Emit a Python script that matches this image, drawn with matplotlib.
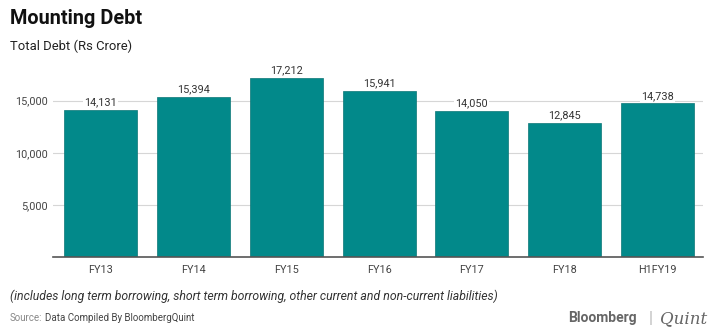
import matplotlib.pyplot as plt
import numpy as np

plt.rcParams['font.family'] = ['Roboto', 'DejaVu Sans']

years = ['FY13', 'FY14', 'FY15', 'FY16', 'FY17', 'FY18', 'H1FY19']
debt = [14131, 15394, 17212, 15941, 14050, 12845, 14738]
yticks = [5000, 10000, 15000]

fig = plt.figure(figsize=(7.2, 3.35), dpi=100)
ax = fig.add_axes([0.0736, 0.233, 0.9028, 0.591])

x = np.arange(len(years))
ax.bar(x, debt, width=0.786, color='#02898a', edgecolor='#0b7676',
       linewidth=0.5, zorder=2)
for xi, v in zip(x, debt):
    ax.text(xi, v + 250, f'{v:,}', ha='center', va='bottom', fontsize=7.8,
            color='#333333', zorder=3,
            bbox=dict(facecolor='white', edgecolor='none', pad=0.8))

ax.set_xlim(-0.512, 6.49)
ax.set_ylim(0, 19000)
ax.set_yticks(yticks)
ax.set_yticklabels([f'{t:,}' for t in yticks])
ax.set_xticks(x)
ax.set_xticklabels(years)
ax.tick_params(length=0, labelsize=7.8, labelcolor='#444444')
ax.tick_params(axis='x', pad=6)
ax.grid(axis='y', color='#d6d6d6', linewidth=0.8, zorder=0)
for s in ['top', 'right', 'left']:
    ax.spines[s].set_visible(False)
ax.spines['bottom'].set_color('#555555')
ax.spines['bottom'].set_linewidth(1.2)

fig.text(0.014, 0.945, 'Mounting Debt', fontsize=14.3, fontweight='bold',
         color='#111111', va='center')
fig.text(0.014, 0.862, 'Total Debt (Rs Crore)', fontsize=9.4,
         color='#222222', va='center')
fig.text(0.014, 0.117, '(includes long term borrowing, short term borrowing, '
         'other current and non-current liabilities)',
         fontsize=8.8, style='italic', color='#333333', va='center')
fig.text(0.014, 0.05, 'Source:', fontsize=7, color='#888888', va='center')
fig.text(0.063, 0.05, 'Data Compiled By BloombergQuint', fontsize=7,
         color='#444444', va='center')
fig.text(0.885, 0.05, 'Bloomberg', fontsize=10, fontweight='bold',
         color='#666666', va='center', ha='right')
fig.text(0.904, 0.05, '|', fontsize=12, color='#bbbbbb', va='center',
         ha='center')
fig.text(0.916, 0.05, 'Quint', fontsize=12, style='italic',
         family='DejaVu Serif', color='#666666', va='center')

fig.savefig('out.png', dpi=100)
